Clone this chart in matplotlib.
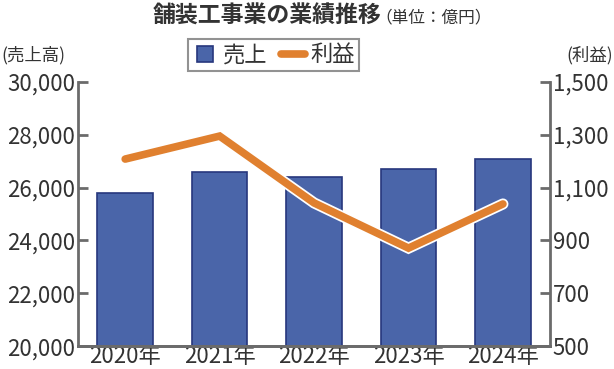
import matplotlib
matplotlib.use("Agg")
import matplotlib.pyplot as plt
import matplotlib.patheffects as pe
from matplotlib.lines import Line2D
import numpy as np

plt.rcParams['font.family'] = ['Noto Sans CJK JP', 'DejaVu Sans']

years = ['2020年', '2021年', '2022年', '2023年', '2024年']
sales = [25800, 26600, 26400, 26700, 27080]
profit = [1208, 1295, 1042, 871, 1038]

bar_color = '#4a65a9'
edge_color = '#27377d'
line_color = '#e0802f'
axis_color = '#6b6b6b'
text_color = '#333333'

fig = plt.figure(figsize=(6.14, 3.69), dpi=100)
ax = fig.add_axes([0.127, 0.062, 0.769, 0.716])
ax2 = ax.twinx()

x = np.arange(len(years))
ax.bar(x, sales, width=0.59, color=bar_color, edgecolor=edge_color,
       linewidth=1.2, zorder=2)
ax.set_ylim(20000, 30000)
ax.set_xlim(-0.5, 4.5)
ax.set_yticks(range(20000, 30001, 2000))
ax.set_yticklabels([f'{v:,}' for v in range(20000, 30001, 2000)])
ax.set_xticks(x)
ax.set_xticklabels(years)

ax2.plot(x, profit, color=line_color, linewidth=5.5, solid_capstyle='round',
         solid_joinstyle='miter', zorder=3,
         path_effects=[pe.Stroke(linewidth=8, foreground='white'), pe.Normal()])
ax2.set_ylim(500, 1500)
ax2.set_yticks(range(500, 1501, 200))
ax2.set_yticklabels([f'{v:,}' for v in range(500, 1501, 200)])

for a in (ax, ax2):
    a.spines['top'].set_visible(False)
    for s in ('left', 'right', 'bottom'):
        a.spines[s].set_color(axis_color)
        a.spines[s].set_linewidth(2)
    a.tick_params(axis='y', direction='in', length=7, width=2, color=axis_color,
                  labelsize=16, labelcolor=text_color, pad=2)
    a.tick_params(axis='x', length=0, labelsize=16, labelcolor=text_color, pad=-1)
ax.spines['right'].set_visible(False)
ax2.spines['left'].set_visible(False)
ax.set_zorder(ax2.get_zorder() - 1)
ax2.patch.set_visible(False)

fig.text(0.622, 0.955, '舗装工事業の業績推移', ha='right', va='center',
         fontsize=16.5, fontweight='bold', color=text_color)
fig.text(0.612, 0.952, '（単位：億円）', ha='left', va='center',
         fontsize=12, color=text_color)
fig.text(0.003, 0.851, '(売上高)', ha='left', va='center', fontsize=12.5, color=text_color)
fig.text(0.998, 0.851, '(利益)', ha='right', va='center', fontsize=12.5, color=text_color)

bar_proxy = Line2D([], [], marker='s', markersize=12, linestyle='none',
                   markerfacecolor=bar_color, markeredgecolor=edge_color, markeredgewidth=1.2)
line_proxy = Line2D([], [], color=line_color, linewidth=5.5, solid_capstyle='round')
leg = fig.legend([bar_proxy, line_proxy], ['売上', '利益'], loc='center', ncol=2,
                 bbox_to_anchor=(0.446, 0.851), fontsize=16, frameon=True,
                 fancybox=False, edgecolor='#777777', handlelength=1.1,
                 handletextpad=0.25, columnspacing=0.6, borderpad=0.2,
                 borderaxespad=0)
leg.get_frame().set_linewidth(1.5)
for t in leg.get_texts():
    t.set_color(text_color)

fig.savefig('out.png', dpi=100)
